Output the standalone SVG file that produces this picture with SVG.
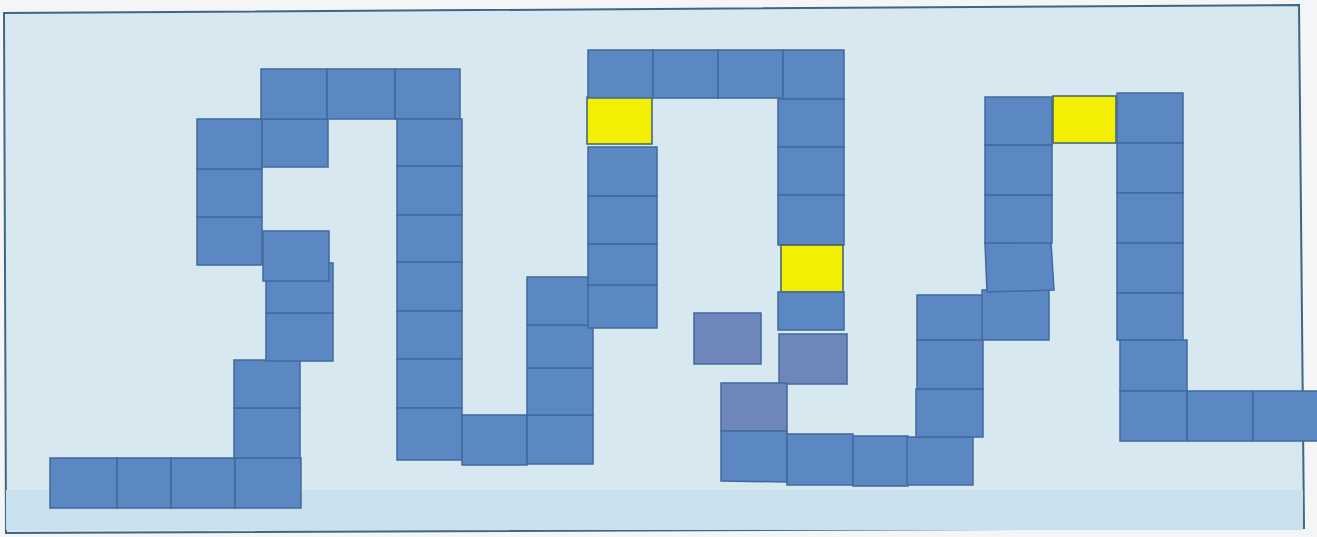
<svg xmlns="http://www.w3.org/2000/svg" width="1317" height="537" viewBox="0 0 1317 537">
<style>
.t{fill:#5b87c2;stroke:#41699c;stroke-width:1.5}
.p{fill:#6f86bb;stroke:#41699c;stroke-width:1.5}
.y{fill:#f3ef00;stroke:#3d5f7a;stroke-width:1.5}
</style>
<rect x="0" y="0" width="1317" height="537" fill="#f3f5f6"/>
<polygon points="4,13 1299,5 1304,528 6,533" fill="#d7e8f0" stroke="#3f6784" stroke-width="2"/>
<rect x="6" y="490" width="1297" height="40" fill="#c9e1ec"/>
<g id="tiles">
<!-- bottom-left row -->
<rect class="t" x="50" y="458" width="67" height="50"/>
<rect class="t" x="117" y="458" width="54" height="50"/>
<rect class="t" x="171" y="458" width="64" height="50"/>
<rect class="t" x="235" y="458" width="66" height="50"/>
<rect class="t" x="234" y="408" width="66" height="50"/>
<rect class="t" x="234" y="360" width="66" height="48"/>
<rect class="t" x="266" y="313" width="67" height="48"/>
<rect class="t" x="266" y="263" width="67" height="50"/>
<rect class="t" x="263" y="231" width="66" height="50"/>
<rect class="t" x="197" y="217" width="65" height="48"/>
<rect class="t" x="197" y="169" width="65" height="48"/>
<rect class="t" x="197" y="119" width="65" height="50"/>
<rect class="t" x="262" y="119" width="66" height="48"/>
<!-- top row 1 -->
<rect class="t" x="261" y="69" width="66" height="50"/>
<rect class="t" x="327" y="69" width="68" height="50"/>
<rect class="t" x="395" y="69" width="65" height="50"/>
<!-- column 1 -->
<rect class="t" x="397" y="119" width="65" height="47"/>
<rect class="t" x="397" y="166" width="65" height="49"/>
<rect class="t" x="397" y="215" width="65" height="47"/>
<rect class="t" x="397" y="262" width="65" height="49"/>
<rect class="t" x="397" y="311" width="65" height="48"/>
<rect class="t" x="397" y="359" width="65" height="49"/>
<rect class="t" x="397" y="408" width="65" height="52"/>
<rect class="t" x="462" y="415" width="65" height="50"/>
<rect class="t" x="527" y="415" width="66" height="49"/>
<rect class="t" x="527" y="368" width="66" height="47"/>
<rect class="t" x="527" y="325" width="66" height="43"/>
<rect class="t" x="527" y="277" width="66" height="48"/>
<!-- column 2 -->
<rect class="t" x="588" y="285" width="69" height="43"/>
<rect class="t" x="588" y="244" width="69" height="41"/>
<rect class="t" x="588" y="196" width="69" height="48"/>
<rect class="t" x="588" y="147" width="69" height="49"/>
<rect class="y" x="587" y="97" width="65" height="47"/>
<!-- top row 2 -->
<rect class="t" x="588" y="50" width="65" height="48"/>
<rect class="t" x="653" y="50" width="65" height="48"/>
<rect class="t" x="718" y="50" width="65" height="48"/>
<rect class="t" x="783" y="50" width="61" height="49"/>
<!-- column 3 -->
<rect class="t" x="778" y="99" width="66" height="48"/>
<rect class="t" x="778" y="147" width="66" height="48"/>
<rect class="t" x="778" y="195" width="66" height="50"/>
<rect class="y" x="781" y="245" width="62" height="47"/>
<rect class="t" x="778" y="292" width="66" height="38"/>
<rect class="p" x="779" y="334" width="68" height="50"/>
<!-- isolated tile -->
<rect class="p" x="694" y="313" width="67" height="51"/>
<rect class="p" x="721" y="383" width="66" height="48"/>
<polygon class="t" points="721,431 787,431 787,482 721,481"/>
<!-- bottom row 2 -->
<rect class="t" x="787" y="434" width="66" height="51"/>
<rect class="t" x="853" y="436" width="55" height="50"/>
<rect class="t" x="907" y="437" width="66" height="48"/>
<!-- column 4 -->
<rect class="t" x="916" y="389" width="67" height="48"/>
<rect class="t" x="917" y="340" width="66" height="49"/>
<rect class="t" x="917" y="295" width="66" height="45"/>
<rect class="t" x="982" y="290" width="67" height="50"/>
<polygon class="t" points="985,243 1051,242 1054,290 987,292"/>
<rect class="t" x="985" y="195" width="67" height="48"/>
<rect class="t" x="985" y="145" width="67" height="50"/>
<rect class="t" x="985" y="97" width="67" height="48"/>
<rect class="y" x="1053" y="96" width="63" height="47"/>
<!-- column 5 -->
<rect class="t" x="1117" y="93" width="66" height="50"/>
<rect class="t" x="1117" y="143" width="66" height="50"/>
<rect class="t" x="1117" y="193" width="66" height="50"/>
<rect class="t" x="1117" y="243" width="66" height="50"/>
<rect class="t" x="1117" y="293" width="66" height="47"/>
<rect class="t" x="1120" y="340" width="67" height="51"/>
<rect class="t" x="1120" y="391" width="67" height="50"/>
<rect class="t" x="1187" y="391" width="66" height="50"/>
<rect class="t" x="1253" y="391" width="66" height="50"/>
</g>
</svg>
